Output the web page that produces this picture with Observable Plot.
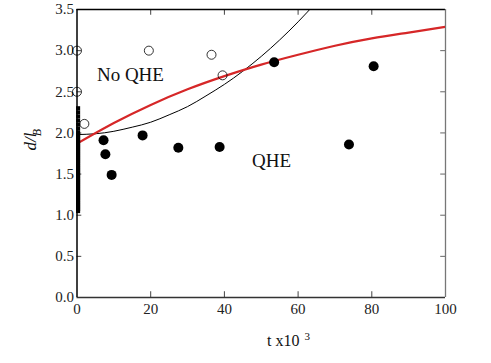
<!DOCTYPE html>
<html>
<head>
<meta charset="utf-8">
<script src="https://cdn.jsdelivr.net/npm/d3@7"></script>
<script src="https://cdn.jsdelivr.net/npm/@observablehq/plot@0.6"></script>
<style>
  html, body { margin: 0; padding: 0; background: #fff; }
</style>
</head>
<body>
<div id="chart"></div>
<script>
// Open circles (No QHE)
const openT = [0, 0, 2, 19.5, 36.5, 39.5];
const openD = [3.0, 2.5, 2.11, 3.0, 2.95, 2.70];
// Filled circles (QHE)
const filledT = [7.2, 7.7, 9.4, 17.8, 27.5, 38.7, 53.5, 73.8, 80.5];
const filledD = [1.91, 1.74, 1.49, 1.97, 1.82, 1.83, 2.86, 1.86, 2.81];
// Small squares at t = 0
const squareD = [2.30, 2.25, 2.20, 2.15, 2.10, 2.05, 2.00, 1.975, 1.95, 1.925, 1.90, 1.875, 1.85, 1.825, 1.80,
  1.775, 1.75, 1.725, 1.70, 1.675, 1.65, 1.625, 1.60, 1.575, 1.55, 1.525, 1.50, 1.475, 1.45, 1.425, 1.40,
  1.375, 1.35, 1.325, 1.30, 1.275, 1.25, 1.225, 1.20, 1.175, 1.15, 1.125, 1.10, 1.075, 1.05];
// Red curve
const redT = [0, 10, 20, 30, 40, 50, 60, 70, 80, 90, 100];
const redD = [1.87, 2.12, 2.34, 2.53, 2.69, 2.83, 2.95, 3.06, 3.15, 3.22, 3.29];
// Black curve
const blackT = [0, 5, 10, 15, 20, 25, 30, 35, 40, 45, 50, 55, 60, 65];
const blackD = [1.98, 1.99, 2.02, 2.07, 2.13, 2.22, 2.32, 2.45, 2.59, 2.75, 2.93, 3.13, 3.35, 3.59];
// Ticks
const xTicks = [0, 20, 40, 60, 80, 100];
const yTicks = [0, 0.5, 1.0, 1.5, 2.0, 2.5, 3.0, 3.5];

const openPts = openT.map((t, i) => ({t, d: openD[i]}));
const filledPts = filledT.map((t, i) => ({t, d: filledD[i]}));
const squarePts = squareD.map(d => ({t: 0.3, d}));
const redPts = redT.map((t, i) => ({t, d: redD[i]}));
const blackPts = blackT.map((t, i) => ({t, d: blackD[i]}));

const serif = "Liberation Serif, DejaVu Serif, serif";

const chart = Plot.plot({
  width: 491,
  height: 363,
  marginLeft: 76.5,
  marginRight: 46,
  marginTop: 9,
  marginBottom: 66,
  style: {fontFamily: serif, fontSize: "15px", background: "#fff", color: "#222"},
  x: {domain: [0, 100], ticks: xTicks, tickFormat: d => String(d)},
  y: {domain: [0, 3.5], ticks: yTicks, tickFormat: d => d.toFixed(1)},
  marks: [
    Plot.axisX({ticks: xTicks, tickSize: 0, tickPadding: 6, label: null, fontSize: 15, tickFormat: d => String(d)}),
    Plot.axisY({ticks: yTicks, tickSize: 0, tickPadding: 3, label: null, fontSize: 15, tickFormat: d => d.toFixed(1)}),
    // inward ticks
    Plot.ruleX(xTicks.slice(1, -1), {x: d => d, y1: 0, y2: 0.07, stroke: "#444"}),
    Plot.ruleX(xTicks.slice(1, -1), {x: d => d, y1: 3.5, y2: 3.43, stroke: "#444"}),
    Plot.ruleY(yTicks.slice(1, -1), {y: d => d, x1: 0, x2: 1.3, stroke: "#444"}),
    Plot.ruleY(yTicks.slice(1, -1), {y: d => d, x1: 100, x2: 98.7, stroke: "#666"}),
    // frame
    Plot.ruleY([3.5], {stroke: "#000", strokeWidth: 1.3}),
    Plot.ruleY([0], {stroke: "#333", strokeWidth: 1.3}),
    Plot.ruleX([100], {stroke: "#777", strokeWidth: 1.3}),
    // curves
    Plot.line(blackPts, {x: "t", y: "d", curve: "natural", stroke: "#000", strokeWidth: 1, clip: true}),
    Plot.line(redPts, {x: "t", y: "d", curve: "natural", stroke: "#d62728", strokeWidth: 2.2, clip: true}),
    // points
    Plot.dot(squarePts, {x: "t", y: "d", symbol: "square", r: 2.3, fill: "#000"}),
    Plot.dot(openPts, {x: "t", y: "d", r: 4.5, stroke: "#000", strokeWidth: 0.8, fill: "none"}),
    Plot.dot(filledPts, {x: "t", y: "d", r: 5, fill: "#000"}),
    Plot.ruleX([0], {stroke: "#000", strokeWidth: 1.5}),
    // region labels
    Plot.text(["No QHE"], {x: 14.5, y: 2.70, fontSize: 19, fill: "#111"}),
    Plot.text(["QHE"], {x: 52.8, y: 1.66, fontSize: 19, fill: "#111"}),
    // x axis title
    Plot.text(["t x10"], {frameAnchor: "bottom", x: 50, dy: 48, dx: 22, fontSize: 16, fill: "#111"}),
    Plot.text(["3"], {frameAnchor: "bottom", x: 50, dy: 42, dx: 46, fontSize: 11, fill: "#111"}),
    // y axis title
    Plot.text(["d/l"], {frameAnchor: "left", y: 1.786, dx: -46, rotate: -90, fontSize: 17, fontStyle: "italic", fill: "#111"}),
    Plot.text(["B"], {frameAnchor: "left", y: 1.96, dx: -40, rotate: -90, fontSize: 12, fontStyle: "italic", fill: "#111"})
  ]
});
d3.select(chart).selectAll("text").attr("font-family", serif).style("font-family", serif);
document.getElementById("chart").appendChild(chart);
</script>
</body>
</html>
